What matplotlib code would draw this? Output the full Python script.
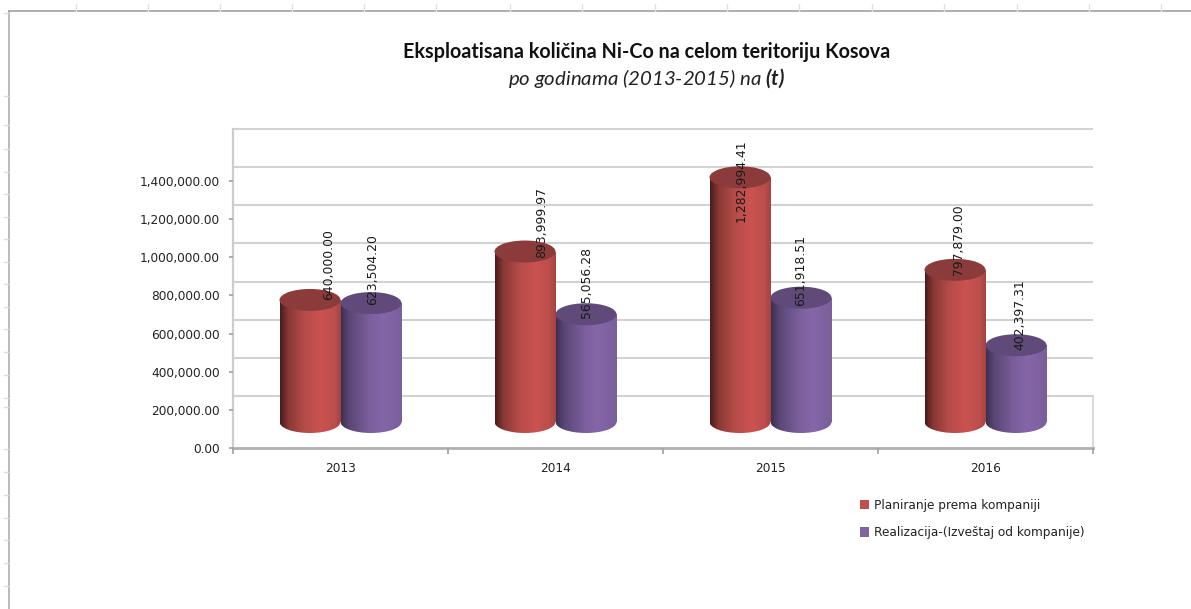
import numpy as np
import matplotlib
matplotlib.use("Agg")
import matplotlib.pyplot as plt
from matplotlib.colors import LinearSegmentedColormap
from matplotlib.lines import Line2D
from matplotlib.patches import Ellipse, Patch

years = ["2013", "2014", "2015", "2016"]
planned = [640000.00, 893999.97, 1282994.41, 797879.00]
realized = [623504.20, 565056.28, 651918.51, 402397.31]
planned_name = "Planiranje prema kompaniji"
realized_name = "Realizacija-(Izveštaj od kompanije)"
y_ticks = [0, 200000, 400000, 600000, 800000, 1000000, 1200000, 1400000]

plt.rcParams["mathtext.fontset"] = "custom"
plt.rcParams["mathtext.bfit"] = "Lato:italic:bold"
plt.rcParams["mathtext.bf"] = "Lato:bold"
plt.rcParams["mathtext.rm"] = "Lato"
plt.rcParams["mathtext.it"] = "Lato:italic"

W, H = 1191, 609
fig = plt.figure(figsize=(W / 100, H / 100), dpi=100, facecolor="white")
ax = fig.add_axes([233 / W, (H - 448) / H, 860 / W, 319 / H])
PX_VAL = 200000 / 38.14
ax.set_xlim(-0.5, 3.5)
ax.set_ylim(0, 319 * PX_VAL)
PX_X = 1 / 215

back = 52 * PX_VAL
mid = 26 * PX_VAL
for s in ax.spines.values():
    s.set_visible(False)
GRID = "#d2d2d2"
ax.hlines([t + back for t in y_ticks], -0.5, 3.5, color=GRID, lw=1.5, zorder=1, clip_on=False)
ax.plot([3.5, 3.5], [0, back], color=GRID, lw=1.2, zorder=1, clip_on=False)
ax.plot([-0.5, -0.5], [0, 319 * PX_VAL], color="#cdcdcd", lw=1.6, zorder=1, clip_on=False)
ax.plot([-0.5, 3.5], [0, 0], color="#b0b0b0", lw=2.0, zorder=1, clip_on=False)

red = LinearSegmentedColormap.from_list("r", [(0, "#4a1c1a"), (0.14, "#8a3835"), (0.4, "#b54c49"),
                                              (0.68, "#cb5350"), (0.9, "#bb4e4b"), (1, "#a34442")])
pur = LinearSegmentedColormap.from_list("p", [(0, "#3d3052"), (0.14, "#5b4776"), (0.45, "#7a5e9b"),
                                              (0.68, "#8566a8"), (1, "#7a5f9b")])
grad = np.linspace(0, 1, 128).reshape(1, -1)
bw = 61 * PX_X
eh = 22 * PX_VAL


def cylinders(offset, values, cmap, top):
    xs = np.arange(len(values)) + offset
    bars = ax.bar(xs, values, bw, bottom=mid, color="none", zorder=3)
    for x, v, bar in zip(xs, values, bars):
        ext = (x - bw / 2, x + bw / 2, mid - eh / 2, mid + v)
        low = Ellipse((x, mid), bw, eh, fc="none", ec="none", zorder=3)
        ax.add_patch(low)
        im = ax.imshow(grad, cmap=cmap, aspect="auto", extent=ext, zorder=3)
        im.set_clip_path(bar)
        im2 = ax.imshow(grad, cmap=cmap, aspect="auto", extent=ext, zorder=3)
        im2.set_clip_path(low)
        ax.add_patch(Ellipse((x, mid + v), bw, eh, fc=top, ec="none", zorder=4))


off = 30.5 * PX_X
cylinders(-off, planned, red, "#8b3c3a")
cylinders(off, realized, pur, "#5f4a7a")
ax.set_xlim(-0.5, 3.5)
ax.set_ylim(0, 319 * PX_VAL)

# data labels: (dx px, dy px) relative to the top of each cylinder
label_off = [[(19, 0), (17, -6), (1, -45), (3, -5)], [(2, -2), (1, -4), (0, -8), (4, -5)]]
for k, (sign, vals) in enumerate(((-off, planned), (off, realized))):
    for i, v in enumerate(vals):
        dx, dy = label_off[k][i]
        ax.annotate(f"{v:,.2f}", (i + sign, mid + v), xytext=(dx * 0.72, dy * 0.72),
                    textcoords="offset points", rotation=90, ha="center", va="bottom",
                    fontsize=8.9, color="#1a1a1a", zorder=6, annotation_clip=False)

ax.set_yticks(y_ticks)
ax.set_yticklabels([f"{t:,.2f}" for t in y_ticks], fontsize=8.7, color="#222222")
ax.tick_params(axis="y", length=3.2, width=1.2, color="#a0a0a0", pad=6.5)
ax.set_xticks(np.arange(-0.5, 4, 1))
ax.set_xticklabels([])
ax.set_xticks(range(4), years, minor=True, fontsize=8.7, color="#222222")
ax.tick_params(axis="x", which="major", length=4.5, width=1.2, color="#a0a0a0")
ax.tick_params(axis="x", which="minor", length=0, pad=10)

fig.text(647 / W, 1 - 51.5 / H, "Eksploatisana količina Ni-Co na celom teritoriju Kosova", ha="center",
         va="center", fontsize=14.2, fontweight="bold", family="Lato", color="#111111")
fig.text(647 / W, 1 - 78 / H, r"po godinama (2013-2015) na $\mathbfit{(t)}$", ha="center", va="center",
         fontsize=14.7, style="italic", family="Lato", color="#222222")

fig.legend(handles=[Patch(fc="#c0504d", ec="none"), Patch(fc="#8064a2", ec="none")],
           labels=[planned_name, realized_name], loc="upper left",
           bbox_to_anchor=(856 / W, 1 - 495 / H), frameon=False, fontsize=8.7,
           handlelength=0.8, handleheight=0.8, handletextpad=0.35, labelspacing=1.2,
           borderpad=0.3, borderaxespad=0, labelcolor="#222222")

# surrounding sheet frame and cell marks
FR = "#a8a8a8"
fig.add_artist(Line2D([8.5 / W, 8.5 / W], [0, 1 - 11 / H], color="#b4b4b4", lw=1.3))
fig.add_artist(Line2D([8.5 / W, 1], [1 - 11 / H, 1 - 11 / H], color=FR, lw=1.3))
for x in [76, 148, 220, 292, 364, 436, 510, 582, 655, 727, 799, 872, 944, 1017, 1089, 1161]:
    fig.add_artist(Line2D([x / W, x / W], [1 - 4 / H, 1 - 11 / H], color="#e2e2e2", lw=1))
for y in [13, 96, 125, 149, 172, 194, 217, 239, 262, 284, 307, 329, 352, 375, 398, 407, 449, 472,
          495, 518, 540, 563, 586]:
    fig.add_artist(Line2D([4 / W, 8 / W], [1 - y / H, 1 - y / H], color="#dedede", lw=1))

fig.savefig("out.png", dpi=100)
